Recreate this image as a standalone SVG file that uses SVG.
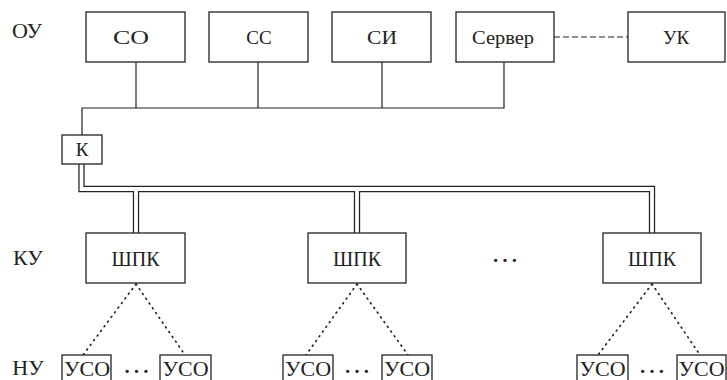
<svg xmlns="http://www.w3.org/2000/svg" width="727" height="380" viewBox="0 0 727 380" font-family="'Liberation Serif', 'Times New Roman', serif">
<style>
.box{fill:#fff;stroke:#222;stroke-width:1.3}
.t{fill:#222;text-anchor:middle}
.ln{fill:none;stroke:#222;stroke-width:1.2}
.dot{fill:none;stroke:#222;stroke-width:1.7;stroke-dasharray:1 4.8;stroke-linecap:round}
</style>
<rect width="727" height="380" fill="#fff"/>
<g id="levels">
<text class="t" x="27" y="38" font-size="22">ОУ</text>
<text class="t" x="28" y="265" font-size="22">КУ</text>
<text class="t" x="28" y="375" font-size="22">НУ</text>
</g>
<g id="connectors">
<path class="ln" d="M136 62V108" stroke-width="2"/>
<path class="ln" d="M82 135V108H504V62M258 62V108M382 62V108"/>
<path class="ln" d="M554 37H628" stroke-dasharray="6 3"/>
<path d="M81.5 160V189H652V237M136 189V237M357 189V237" fill="none" stroke="#222" stroke-width="6.3"/>
<path d="M81.5 160V189H652V237M136 189V237M357 189V237" fill="none" stroke="#fff" stroke-width="3.8"/>
<path class="dot" d="M136 284L83 355M136 284L185 355"/>
<path class="dot" d="M357 284L306 355M357 284L408 355"/>
<path class="dot" d="M652 284L598 355M652 284L700 355"/>
</g>
<g id="SO"><rect class="box" x="86" y="12" width="99" height="50"/><text class="t" x="131" y="44" font-size="19" textLength="36" lengthAdjust="spacingAndGlyphs">СО</text></g>
<g id="SS"><rect class="box" x="209" y="12" width="99" height="50"/><text class="t" x="259" y="44" font-size="19">СС</text></g>
<g id="SI"><rect class="box" x="332" y="12" width="99" height="50"/><text class="t" x="382" y="44" font-size="19" textLength="30" lengthAdjust="spacingAndGlyphs">СИ</text></g>
<g id="Server"><rect class="box" x="456" y="12" width="98" height="50"/><text class="t" x="503" y="44" font-size="19" textLength="62" lengthAdjust="spacingAndGlyphs">Сервер</text></g>
<g id="UK"><rect class="box" x="628" y="12" width="97" height="50"/><text class="t" x="676" y="44" font-size="19">УК</text></g>
<g id="K"><rect class="box" x="62" y="135" width="40" height="29"/><text class="t" x="82" y="156" font-size="19">К</text></g>
<g id="SHPK1"><rect class="box" x="86" y="233" width="99" height="50"/><text class="t" x="135.5" y="266" font-size="20">ШПК</text></g>
<g id="SHPK2"><rect class="box" x="308" y="233" width="98" height="50"/><text class="t" x="357" y="266" font-size="20">ШПК</text></g>
<g id="SHPK3"><rect class="box" x="603" y="233" width="98" height="50"/><text class="t" x="652" y="266" font-size="20">ШПК</text></g>
<text class="t" x="505" y="262" font-size="28">…</text>
<g id="USO1"><rect class="box" x="62" y="355" width="49" height="35"/><text class="t" x="87" y="376" font-size="22">УСО</text></g>
<g id="USO2"><rect class="box" x="160" y="355" width="51" height="35"/><text class="t" x="185.5" y="376" font-size="22">УСО</text></g>
<g id="USO3"><rect class="box" x="283" y="355" width="50" height="35"/><text class="t" x="308" y="376" font-size="22">УСО</text></g>
<g id="USO4"><rect class="box" x="382" y="355" width="50" height="35"/><text class="t" x="407" y="376" font-size="22">УСО</text></g>
<g id="USO5"><rect class="box" x="577" y="355" width="51" height="35"/><text class="t" x="602.5" y="376" font-size="22">УСО</text></g>
<g id="USO6"><rect class="box" x="677" y="355" width="49" height="35"/><text class="t" x="701.5" y="376" font-size="22">УСО</text></g>
<text class="t" x="136.5" y="373" font-size="28">…</text>
<text class="t" x="357" y="373" font-size="28">…</text>
<text class="t" x="652" y="373" font-size="28">…</text>
</svg>
